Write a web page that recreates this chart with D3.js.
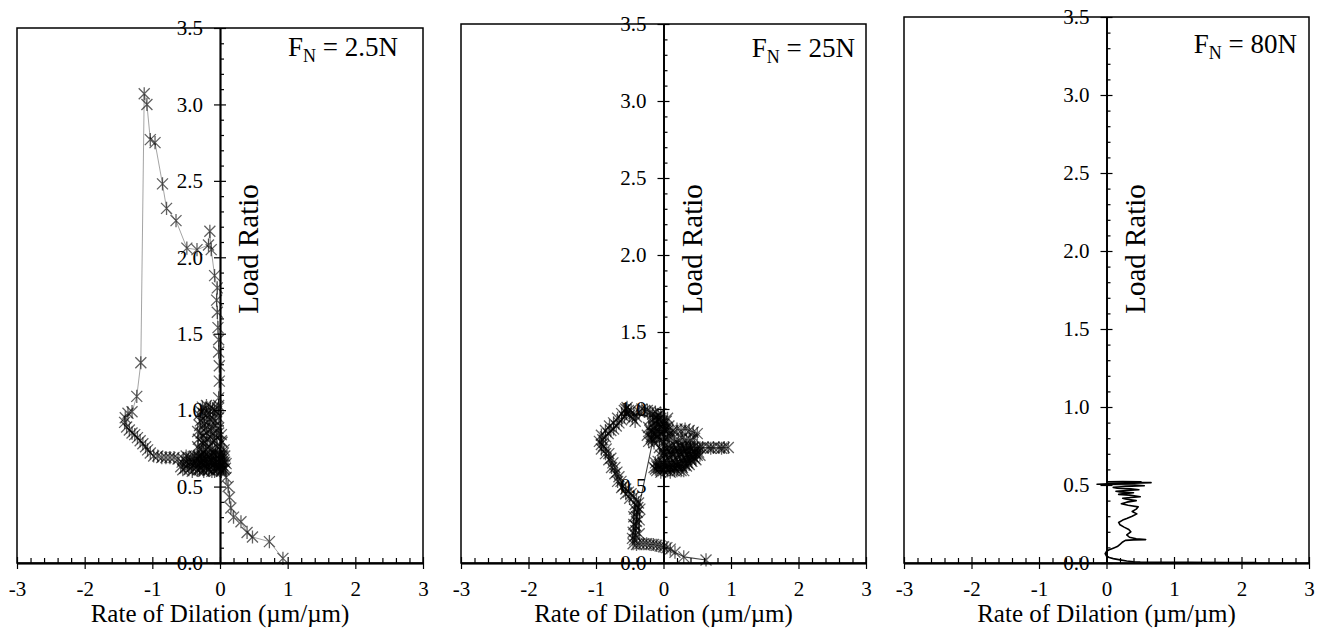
<!DOCTYPE html>
<html><head><meta charset="utf-8">
<script src="https://cdn.jsdelivr.net/npm/d3@7"></script>
<style>
body{margin:0;background:#fff}
svg{display:block}
text{font-family:"Liberation Serif","Times New Roman",serif;fill:#000}
</style>
</head><body>
<svg id="c" width="1322" height="633"></svg>
<script>
// ---------- data ----------
const xTicks = [-3, -2, -1, 0, 1, 2, 3];
const yTicks = [0, 0.5, 1, 1.5, 2, 2.5, 3, 3.5];
const loadLabels = ["2.5N", "25N", "80N"];
const xTitle = "Rate of Dilation (µm/µm)";
const yTitle = "Load Ratio";

// F_N = 2.5N : [rate of dilation, load ratio]
const fn2p5 = [
 [0.93,0.03],[0.73,0.14],[0.48,0.17],[0.40,0.20],[0.31,0.27],[0.20,0.30],[0.16,0.36],[0.14,0.43],[0.12,0.50],[0.09,0.56],[0.06,0.61],[0.07,0.66],[0.05,0.72],[0.03,0.79],[0.02,0.84],
 [-0.05,0.62],[-0.12,0.60],[-0.20,0.63],[-0.28,0.66],[-0.32,0.70],[-0.30,0.74],[-0.25,0.78],[-0.32,0.81],[-0.28,0.85],[-0.22,0.88],[-0.30,0.90],[-0.26,0.94],[-0.20,0.97],[-0.28,0.99],[-0.22,1.01],[-0.14,1.02],[-0.08,1.00],[-0.15,0.97],[-0.10,0.94],[-0.18,0.92],[-0.12,0.88],[-0.20,0.85],[-0.14,0.82],[-0.22,0.79],[-0.16,0.76],[-0.24,0.73],[-0.18,0.70],[-0.26,0.68],[-0.20,0.65],[-0.12,0.67],[-0.06,0.70],[-0.02,0.66],[0.04,0.64],[0.08,0.62],[0.02,0.60],[-0.06,0.63],[-0.10,0.72],[-0.04,0.76],[-0.08,0.80],[-0.02,0.85],[-0.06,0.90],[-0.02,0.95],[-0.05,0.99],
 [-0.30,0.62],[-0.24,0.60],[-0.16,0.61],[-0.08,0.60],[-0.02,0.62],[-0.34,0.68],[-0.27,0.71],[-0.21,0.74],[-0.13,0.74],[-0.07,0.73],[-0.01,0.71],[-0.33,0.76],[-0.27,0.79],[-0.19,0.81],[-0.11,0.79],[-0.05,0.82],[-0.33,0.86],[-0.25,0.83],[-0.17,0.87],[-0.09,0.85],[-0.03,0.88],[-0.29,0.93],[-0.23,0.91],[-0.15,0.94],[-0.07,0.93],[-0.31,0.97],[-0.25,0.98],[-0.17,1.00],[-0.11,1.01],[-0.03,1.01],[-0.20,1.03],[-0.26,1.02],[0.03,0.68],[0.05,0.62],[0.09,0.65],[0.04,0.70],[-0.02,1.03],
 [-0.02,1.08],[-0.01,1.19],[-0.01,1.29],[-0.02,1.38],[-0.02,1.46],[-0.03,1.54],[-0.04,1.64],[-0.05,1.72],[-0.04,1.80],[-0.08,1.88],[-0.13,2.05],[-0.15,2.17],[-0.17,2.08],[-0.34,2.05],[-0.49,2.06],[-0.65,2.24],[-0.79,2.32],[-0.85,2.48],[-0.96,2.75],[-1.03,2.77],[-1.08,3.00],[-1.12,3.07],
 [-1.17,1.31],[-1.23,1.09],[-1.30,0.99],[-1.36,0.98],[-1.40,0.95],[-1.41,0.92],
 [-1.38,0.89],[-1.34,0.87],[-1.30,0.85],[-1.26,0.84],[-1.22,0.82],[-1.18,0.80],[-1.14,0.78],[-1.10,0.76],[-1.07,0.74],[-1.03,0.72],[-0.98,0.70],[-0.92,0.70],[-0.86,0.69],[-0.80,0.69],[-0.74,0.69],[-0.68,0.69],[-0.62,0.68],
 [-0.56,0.66],[-0.52,0.62],[-0.48,0.64],[-0.44,0.69],[-0.40,0.66],[-0.36,0.62],[-0.32,0.64],[-0.28,0.70],[-0.24,0.67],[-0.20,0.62],[-0.16,0.66],[-0.12,0.70],[-0.08,0.65],[-0.04,0.61],[-0.50,0.70],[-0.46,0.61],[-0.42,0.63],[-0.38,0.70],[-0.34,0.67],[-0.30,0.61],[-0.26,0.64],[-0.22,0.71],[-0.18,0.68],[-0.14,0.63],[-0.10,0.66],[-0.06,0.68],[0.00,0.64],
 [-0.58,0.63],[-0.54,0.68],[-0.49,0.66],[-0.45,0.66],[-0.41,0.60],[-0.37,0.67],[-0.33,0.61],[-0.29,0.67],[-0.25,0.61],[-0.21,0.68],[-0.17,0.61],[-0.13,0.68],[-0.09,0.62],[-0.05,0.66],[-0.55,0.61],[-0.47,0.69],[-0.39,0.64],[-0.31,0.69],[-0.23,0.64],[-0.15,0.70],[-0.07,0.71],[-0.01,0.68],[0.03,0.61],[0.07,0.70],
 [0.05,0.67],[0.02,0.70],[0.06,0.74],[0.02,0.80]
];

// F_N = 25N
const fn25 = [
 [0.63,0.02],[0.30,0.04],[0.17,0.07],[0.10,0.09],[0.05,0.10],[0.00,0.105],[-0.05,0.11],[-0.10,0.115],[-0.15,0.12],[-0.20,0.12],[-0.25,0.125],[-0.30,0.125],[-0.35,0.125],[-0.40,0.12],[-0.45,0.125],
 [-0.43,0.15],[-0.42,0.18],[-0.41,0.21],[-0.41,0.24],[-0.40,0.27],[-0.40,0.30],[-0.39,0.33],[-0.38,0.36],[-0.37,0.39],[-0.40,0.41],[-0.44,0.43],[-0.48,0.45],[-0.52,0.46],[-0.56,0.48],[-0.60,0.50],[-0.63,0.53],[-0.66,0.56],[-0.69,0.59],[-0.72,0.62],[-0.75,0.65],[-0.78,0.68],[-0.81,0.71],[-0.85,0.74],[-0.89,0.76],[-0.92,0.77],[-0.90,0.80],[-0.86,0.82],[-0.82,0.84],[-0.78,0.86],[-0.74,0.87],[-0.70,0.89],[-0.66,0.91],[-0.62,0.93],[-0.58,0.95],[-0.55,0.97],[-0.52,0.99],[-0.56,1.00],[-0.50,0.96],[-0.46,0.94],[-0.42,0.92],[-0.40,0.95],[-0.36,0.98],[-0.32,1.00],[-0.28,0.99],[-0.24,0.99],[-0.20,0.98],[-0.16,0.97],[-0.12,0.98],[-0.08,0.96],
 [-0.46,0.16],[-0.45,0.20],[-0.44,0.25],[-0.44,0.30],[-0.43,0.35],[-0.42,0.38],[-0.36,0.19],[-0.36,0.28],[-0.35,0.35],[-0.50,0.42],[-0.56,0.45],[-0.62,0.49],[-0.68,0.53],[-0.72,0.58],[-0.77,0.62],[-0.81,0.67],[-0.86,0.71],[-0.92,0.74],[-0.95,0.79],[-0.92,0.83],[-0.86,0.86],[-0.80,0.89],[-0.74,0.91],[-0.68,0.94],[-0.62,0.97],[-0.58,0.99],[-0.54,1.01],[-0.48,0.99],[-0.44,0.97],
 [-0.04,0.94],[-0.10,0.92],[-0.16,0.90],[-0.22,0.88],[-0.18,0.85],[-0.12,0.86],[-0.06,0.88],[0.00,0.90],[0.04,0.92],[0.08,0.89],[0.02,0.86],[-0.04,0.84],[-0.10,0.82],[-0.16,0.80],[-0.22,0.79],[-0.14,0.78],[-0.06,0.80],[0.02,0.82],[0.10,0.84],[0.14,0.86],
 [-0.20,0.93],[-0.14,0.94],[-0.08,0.93],[-0.02,0.92],[0.06,0.94],[-0.24,0.83],[-0.18,0.82],[-0.12,0.84],[-0.06,0.85],[0.00,0.84],[0.06,0.86],[-0.20,0.86],[-0.14,0.88],[-0.08,0.90],[-0.02,0.88],[0.04,0.88],[-0.10,0.95],[-0.04,0.97],[-0.18,0.81],[-0.08,0.82],[0.00,0.79],[0.06,0.81],[0.12,0.82],
 [0.20,0.87],[0.26,0.86],[0.32,0.87],[0.38,0.86],[0.44,0.85],[0.50,0.84],[0.46,0.81],[0.40,0.80],[0.34,0.80],[0.28,0.81],[0.22,0.80],[0.16,0.79],
 [0.30,0.76],[0.40,0.755],[0.50,0.75],[0.58,0.75],[0.66,0.75],[0.74,0.75],[0.82,0.75],[0.90,0.75],[0.96,0.75],[0.86,0.745],[0.70,0.745],[0.54,0.748],
 [0.50,0.74],[0.46,0.72],[0.40,0.74],[0.34,0.73],[0.28,0.74],[0.22,0.73],[0.16,0.74],[0.10,0.72],[0.04,0.74],[-0.02,0.73],[-0.06,0.75],[0.02,0.70],[0.08,0.69],[0.14,0.70],[0.20,0.69],[0.26,0.70],[0.32,0.69],[0.38,0.70],[0.44,0.69],[0.48,0.67],
 [0.48,0.71],[0.42,0.72],[0.36,0.71],[0.30,0.72],[0.24,0.71],[0.18,0.72],[0.12,0.71],[0.06,0.72],[0.00,0.71],[-0.04,0.70],[0.44,0.75],[0.38,0.76],[0.32,0.745],[0.26,0.76],[0.20,0.75],[0.14,0.76],[0.08,0.75],[0.02,0.76],[0.50,0.70],[0.46,0.68],[0.40,0.68],[0.34,0.67],[0.52,0.72],[0.54,0.70],
 [0.42,0.66],[0.36,0.65],[0.30,0.66],[0.24,0.65],[0.18,0.64],[0.12,0.65],[0.06,0.64],[0.00,0.65],[-0.06,0.64],[-0.12,0.65],[-0.08,0.62],[-0.02,0.61],[0.04,0.62],[0.10,0.61],[0.16,0.62],[0.22,0.63],[0.28,0.62],[0.34,0.63],[0.30,0.60],[0.20,0.60],[0.10,0.59],[0.00,0.60],[-0.10,0.60],[-0.14,0.62],
 [0.38,0.64],[0.32,0.64],[0.26,0.63],[0.20,0.63],[0.14,0.63],[0.08,0.62],[0.02,0.63],[-0.04,0.62],[-0.10,0.63],[0.26,0.60],[0.16,0.60],[0.06,0.60],[-0.04,0.59],[-0.12,0.61],[0.40,0.67],[0.28,0.67],[0.16,0.66],[0.04,0.66],[-0.08,0.66]
];

// F_N = 80N
const fn80 = [
 [2.22,0.003],[1.80,0.003],[1.20,0.004],[0.80,0.005],[0.50,0.006],[0.40,0.008],[0.30,0.013],[0.20,0.020],[0.10,0.028],[0.04,0.035],[0.00,0.045],[-0.02,0.060],[0.00,0.075],[0.04,0.085],[0.10,0.095],[0.16,0.105],[0.20,0.120],[0.24,0.135],[0.28,0.145],[0.40,0.148],[0.58,0.150],[0.44,0.155],[0.34,0.165],[0.30,0.180],[0.36,0.200],[0.33,0.215],[0.26,0.230],[0.20,0.245],[0.18,0.260],[0.24,0.275],[0.30,0.285],[0.38,0.300],[0.45,0.315],[0.38,0.330],[0.44,0.345],[0.47,0.360],[0.32,0.370],[0.22,0.380],[0.30,0.390],[0.44,0.400],[0.28,0.410],[0.24,0.415],[0.36,0.420],[0.50,0.425],[0.34,0.435],[0.18,0.440],[0.26,0.445],[0.40,0.450],[0.20,0.455],[0.14,0.460],[0.30,0.465],[0.48,0.470],[0.36,0.475],[0.16,0.480],[0.10,0.485],[0.28,0.490],[0.56,0.495],[0.42,0.500],[0.20,0.503],[-0.14,0.505],[0.10,0.510],[0.40,0.512],[0.66,0.515],[0.30,0.518],[0.02,0.520],[0.24,0.522],[0.52,0.520]
];

const seriesList = [fn2p5, fn25, fn80];

// ---------- drawing ----------
const svg = d3.select("#c");
const layout = [
  {l:17,  r:423,  t:28, b:563, lx:398,  ly:56, line:"#9a9a9a", lw:0.9, markers:true},
  {l:461, r:866,  t:24, b:563, lx:855,  ly:57, line:"#444",    lw:1.1, markers:true},
  {l:904, r:1309, t:17, b:563, lx:1297, ly:53, line:"#000",    lw:1.6, markers:false}
];

const xMinor = d3.range(-30, 31, 2).map(v => v/10).filter(v => Math.abs(v - Math.round(v)) > 1e-6);
const yMinor = d3.range(0, 36, 1).map(v => v/10).filter(v => Math.abs(v*2 - Math.round(v*2)) > 1e-6);

function star(s){
  return `M${-s},${-s}L${s},${s}M${-s},${s}L${s},${-s}M0,${-s*1.2}L0,${s*1.2}`;
}

layout.forEach((L, i) => {
  const g = svg.append("g");
  const x = d3.scaleLinear().domain([-3, 3]).range([L.l, L.r]);
  const y = d3.scaleLinear().domain([0, 3.5]).range([L.b, L.t]);

  const data = seriesList[i];
  const line = d3.line().x(d => x(d[0])).y(d => y(d[1]));
  g.append("path").datum(data).attr("d", line)
    .attr("fill", "none").attr("stroke", L.line).attr("stroke-width", L.lw)
    .attr("stroke-linejoin", "round");
  if (L.markers) {
    g.append("g").selectAll("path").data(data).join("path")
      .attr("transform", d => `translate(${x(d[0])},${y(d[1])})`)
      .attr("d", star(5.5))
      .attr("fill", "none").attr("stroke", "#000").attr("stroke-opacity", 0.62).attr("stroke-width", 1.3);
  }

  // frame
  g.append("rect").attr("x", L.l).attr("y", L.t)
    .attr("width", L.r - L.l).attr("height", L.b - L.t)
    .attr("fill", "none").attr("stroke", "#000").attr("stroke-width", 1.5);

  // x axis (bottom)
  g.append("g").attr("transform", `translate(0,${L.b})`)
    .call(d3.axisBottom(x).tickValues(xTicks).tickSize(6).tickSizeOuter(0).tickPadding(12).tickFormat(d => String(d)));
  g.append("g").attr("transform", `translate(0,${L.b})`)
    .call(d3.axisTop(x).tickValues(xTicks).tickSize(6).tickSizeOuter(0).tickFormat(""));
  g.append("g").attr("transform", `translate(0,${L.b})`)
    .call(d3.axisTop(x).tickValues(xMinor).tickSize(5).tickSizeOuter(0).tickFormat(""));

  // y axis at x = 0
  const x0 = x(0);
  g.append("g").attr("transform", `translate(${x0},0)`)
    .call(d3.axisLeft(y).tickValues(yTicks).tickSize(6).tickSizeOuter(0).tickPadding(11).tickFormat(d3.format(".1f")));
  g.append("g").attr("transform", `translate(${x0},0)`)
    .call(d3.axisRight(y).tickValues(yTicks).tickSize(6).tickSizeOuter(0).tickFormat(""));
  g.append("g").attr("transform", `translate(${x0},0)`)
    .call(d3.axisRight(y).tickValues(yMinor).tickSize(4).tickSizeOuter(0).tickFormat(""));

  g.selectAll(".domain").attr("stroke", "#000").attr("stroke-width", 1.5);
  g.selectAll(".tick line").attr("stroke", "#000").attr("stroke-width", 1.2);
  g.selectAll(".tick text").attr("font-family", "Liberation Serif, serif").attr("font-size", 21).attr("fill", "#000");

  // axis titles
  g.append("text").attr("x", x0).attr("y", 622).attr("text-anchor", "middle")
    .attr("font-size", 25).text(xTitle);
  g.append("text").attr("transform", `translate(${x0 + 38},249) rotate(-90)`)
    .attr("text-anchor", "middle").attr("font-size", 29).text(yTitle);

  // F_N label
  const t = g.append("text").attr("x", L.lx).attr("y", L.ly).attr("text-anchor", "end").attr("font-size", 27);
  t.append("tspan").text("F");
  t.append("tspan").attr("font-size", 18).attr("dy", 6).text("N");
  t.append("tspan").attr("dy", -6).text(" = " + loadLabels[i]);
});
</script>
</body></html>
